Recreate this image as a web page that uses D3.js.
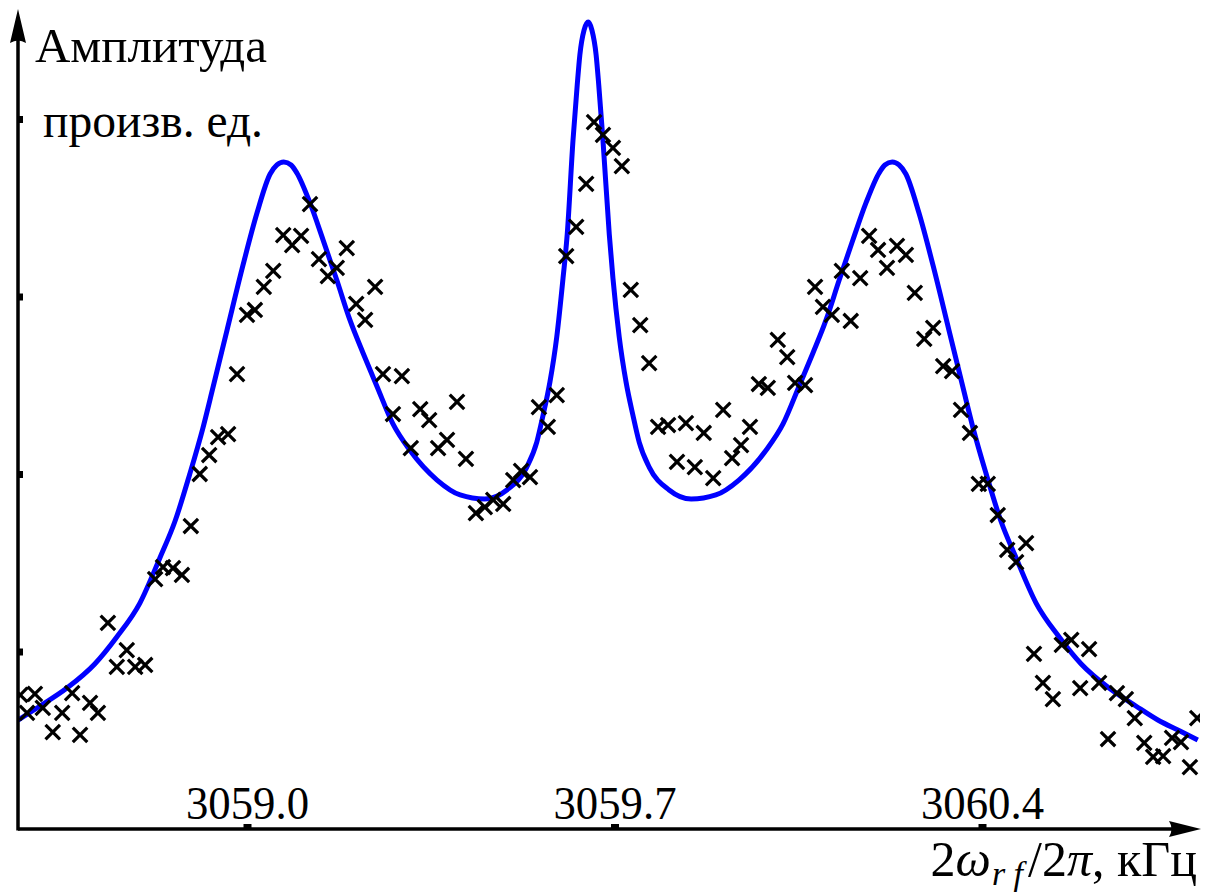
<!DOCTYPE html>
<html>
<head>
<meta charset="utf-8">
<script src="https://cdn.jsdelivr.net/npm/d3@7"></script>
<style>
  html, body { margin: 0; padding: 0; background: #fff; }
  svg { display: block; }
  svg text { font-family: "Liberation Serif", "Times New Roman", "DejaVu Serif", serif; fill: #000; }
</style>
</head>
<body>
<svg id="chart" width="1208" height="892"></svg>
<script>
// Tick positions on the frequency axis (kHz) and amplitude axis (arb. units)
const xTicks = [3059.0, 3059.7, 3060.4];
const yTicks = [1, 2, 3, 4];

// Fitted three-peak resonance curve
const fitFreq = [
  3058.564, 3058.606, 3058.657, 3058.710, 3058.752, 3058.796, 3058.834, 3058.863,
  3058.891, 3058.916, 3058.935, 3058.962, 3058.992, 3059.019, 3059.044, 3059.057,
  3059.070, 3059.084, 3059.095, 3059.120, 3059.145, 3059.171, 3059.196, 3059.221,
  3059.248, 3059.278, 3059.310, 3059.362, 3059.406, 3059.453, 3059.495, 3059.533,
  3059.552, 3059.564, 3059.577, 3059.590, 3059.602, 3059.610, 3059.621, 3059.629,
  3059.634, 3059.642, 3059.650, 3059.657, 3059.665, 3059.670, 3059.678, 3059.690,
  3059.697, 3059.709, 3059.722, 3059.735, 3059.747, 3059.766, 3059.804, 3059.846,
  3059.893, 3059.937, 3059.989, 3060.021, 3060.051, 3060.078, 3060.103, 3060.128,
  3060.154, 3060.179, 3060.204, 3060.215, 3060.229, 3060.242, 3060.255, 3060.280,
  3060.307, 3060.337, 3060.364, 3060.383, 3060.408, 3060.436, 3060.465, 3060.503,
  3060.547, 3060.589, 3060.642, 3060.693, 3060.735, 3060.777, 3060.811
];
const fitAmp = [
  0.614, 0.693, 0.794, 0.930, 1.082, 1.273, 1.527, 1.735,
  2.000, 2.259, 2.485, 2.811, 3.172, 3.470, 3.690, 3.741,
  3.758, 3.741, 3.696, 3.527, 3.318, 3.093, 2.868, 2.682,
  2.490, 2.282, 2.135, 1.966, 1.882, 1.859, 1.910, 2.039,
  2.180, 2.332, 2.518, 2.772, 3.104, 3.352, 3.882, 4.192,
  4.361, 4.501, 4.546, 4.501, 4.361, 4.192, 3.882, 3.352,
  3.104, 2.772, 2.518, 2.332, 2.180, 2.039, 1.910, 1.859,
  1.882, 1.966, 2.135, 2.282, 2.490, 2.682, 2.868, 3.093,
  3.318, 3.527, 3.696, 3.741, 3.758, 3.741, 3.690, 3.470,
  3.172, 2.811, 2.485, 2.259, 2.000, 1.735, 1.527, 1.273,
  1.082, 0.930, 0.794, 0.693, 0.614, 0.552, 0.501
];

// Measured amplitudes
const measFreq = [
  3058.568, 3058.596, 3058.581, 3058.611, 3058.630, 3058.648, 3058.667, 3058.682,
  3058.701, 3058.716, 3058.735, 3058.752, 3058.771, 3058.787, 3058.806, 3058.825,
  3058.840, 3058.859, 3058.876, 3058.893, 3058.910, 3058.928, 3058.945, 3058.964,
  3058.981, 3059.000, 3059.015, 3059.032, 3059.050, 3059.069, 3059.086, 3059.103,
  3059.120, 3059.137, 3059.154, 3059.171, 3059.190, 3059.208, 3059.225, 3059.244,
  3059.259, 3059.295, 3059.278, 3059.330, 3059.347, 3059.400, 3059.312, 3059.364,
  3059.381, 3059.417, 3059.436, 3059.453, 3059.469, 3059.488, 3059.507, 3059.522,
  3059.539, 3059.556, 3059.573, 3059.590, 3059.608, 3059.627, 3059.646, 3059.661,
  3059.678, 3059.697, 3059.714, 3059.731, 3059.749, 3059.766, 3059.783, 3059.802,
  3059.836, 3059.870, 3059.907, 3059.819, 3059.853, 3059.888, 3059.924, 3059.941,
  3059.958, 3059.975, 3059.992, 3060.011, 3060.029, 3060.044, 3060.063, 3060.082,
  3060.097, 3060.114, 3060.133, 3060.150, 3060.168, 3060.185, 3060.202, 3060.219,
  3060.238, 3060.255, 3060.272, 3060.307, 3060.290, 3060.326, 3060.343, 3060.360,
  3060.377, 3060.394, 3060.411, 3060.430, 3060.448, 3060.465, 3060.484, 3060.499,
  3060.516, 3060.535, 3060.552, 3060.570, 3060.587, 3060.604, 3060.623, 3060.640,
  3060.657, 3060.674, 3060.691, 3060.709, 3060.726, 3060.745, 3060.762, 3060.779,
  3060.796, 3060.810
];
const measAmp = [
  0.755, 0.761, 0.654, 0.682, 0.546, 0.654, 0.766, 0.530,
  0.710, 0.654, 1.161, 0.913, 1.008, 0.913, 0.924, 1.408,
  1.476, 1.470, 1.431, 1.707, 2.000, 2.107, 2.208, 2.225,
  2.563, 2.896, 2.924, 3.054, 3.144, 3.346, 3.290, 3.341,
  3.521, 3.211, 3.115, 3.161, 3.273, 2.958, 2.868, 3.054,
  2.563, 2.552, 2.338, 2.366, 2.304, 2.406, 2.146, 2.146,
  2.192, 2.085, 1.780, 1.814, 1.854, 1.831, 1.966, 2.017,
  1.983, 2.377, 2.265, 2.445, 3.228, 3.392, 3.634, 3.983,
  3.910, 3.837, 3.735, 3.037, 2.839, 2.625, 2.265, 2.276,
  2.287, 2.231, 2.361, 2.068, 2.039, 1.977, 2.090, 2.163,
  2.265, 2.507, 2.485, 2.755, 2.659, 2.513, 2.501, 3.054,
  2.941, 2.896, 3.144, 2.862, 3.104, 3.341, 3.262, 3.161,
  3.285, 3.234, 3.020, 2.823, 2.761, 2.608, 2.580, 2.361,
  2.231, 1.944, 1.944, 1.769, 1.572, 1.504, 1.611, 0.986,
  0.823, 0.732, 1.037, 1.065, 0.794, 1.014, 0.823, 0.507,
  0.766, 0.732, 0.625, 0.485, 0.406, 0.411, 0.513, 0.490,
  0.349, 0.625
];

const svg = d3.select("#chart");
const originX = 18, originY = 829;
const axisEndX = 1201, axisEndY = 9;

const x = d3.scaleLinear().domain([3059.0, 3060.4]).range([247, 982]);
const y = d3.scaleLinear().domain([0, 4]).range([originY, 119]);

// plotting region clip
svg.append("defs").append("clipPath").attr("id", "plotClip")
  .append("rect").attr("x", originX).attr("y", 0)
  .attr("width", 1200 - originX).attr("height", originY);

const plot = svg.append("g").attr("clip-path", "url(#plotClip)");

// fitted curve
const fitData = fitFreq.map((f, i) => [f, fitAmp[i]]);
plot.append("path")
  .datum(fitData)
  .attr("fill", "none")
  .attr("stroke", "#0000ff")
  .attr("stroke-width", 5)
  .attr("stroke-linejoin", "round")
  .attr("d", d3.line().x(d => x(d[0])).y(d => y(d[1])).curve(d3.curveMonotoneX));

// measured points as crosses
const crossSymbol = {
  draw(ctx, size) {
    const r = Math.sqrt(size) / 2;
    ctx.moveTo(-r, -r); ctx.lineTo(r, r);
    ctx.moveTo(-r, r); ctx.lineTo(r, -r);
  }
};
const measData = measFreq.map((f, i) => [f, measAmp[i]]);
plot.append("g").selectAll("path")
  .data(measData)
  .join("path")
  .attr("transform", d => `translate(${x(d[0])},${y(d[1])})`)
  .attr("d", d3.symbol(crossSymbol, 210)())
  .attr("fill", "none")
  .attr("stroke", "#000")
  .attr("stroke-width", 3.2);

// axes
const axes = svg.append("g");
axes.append("line")
  .attr("x1", originX).attr("y1", originY)
  .attr("x2", axisEndX - 20).attr("y2", originY)
  .attr("stroke", "#000").attr("stroke-width", 3.5);
axes.append("line")
  .attr("x1", originX).attr("y1", originY + 1.5)
  .attr("x2", originX).attr("y2", axisEndY + 20)
  .attr("stroke", "#000").attr("stroke-width", 3.5);
axes.append("path")
  .attr("d", `M${axisEndX},${originY} L${axisEndX - 32},${originY - 8} Q${axisEndX - 27},${originY} ${axisEndX - 32},${originY + 8} Z`)
  .attr("fill", "#000");
axes.append("path")
  .attr("d", `M${originX},${axisEndY} L${originX - 8},${axisEndY + 34} Q${originX},${axisEndY + 29} ${originX + 8},${axisEndY + 34} Z`)
  .attr("fill", "#000");

// frequency ticks with labels above the axis
const xAxis = svg.append("g")
  .attr("transform", `translate(0,${originY})`)
  .call(d3.axisTop(x).tickValues(xTicks).tickFormat(d3.format(".1f")).tickSize(5).tickSizeOuter(0).tickPadding(5));
xAxis.attr("font-family", null);
xAxis.select(".domain").remove();
xAxis.selectAll(".tick line").attr("stroke", "#000").attr("stroke-width", 8);
xAxis.selectAll(".tick text")
  .attr("fill", "#000")
  .attr("font-size", 46)
  .attr("textLength", 123)
  .attr("lengthAdjust", "spacingAndGlyphs");

// amplitude ticks (unlabelled)
const yAxis = svg.append("g")
  .attr("transform", `translate(${originX},0)`)
  .call(d3.axisRight(y).tickValues(yTicks).tickFormat("").tickSize(5).tickSizeOuter(0));
yAxis.select(".domain").remove();
yAxis.selectAll(".tick line").attr("stroke", "#000").attr("stroke-width", 7);

// axis titles
svg.append("text")
  .attr("x", 35).attr("y", 62)
  .attr("font-size", 48)
  .attr("textLength", 232).attr("lengthAdjust", "spacingAndGlyphs")
  .text("Амплитуда");
svg.append("text")
  .attr("x", 43).attr("y", 137)
  .attr("font-size", 48)
  .attr("textLength", 220).attr("lengthAdjust", "spacingAndGlyphs")
  .text("произв. ед.");

const xTitle = svg.append("text")
  .attr("x", 1197).attr("y", 876)
  .attr("text-anchor", "end")
  .attr("font-size", 50);
xTitle.append("tspan").text("2");
xTitle.append("tspan").attr("font-style", "italic").text("ω");
xTitle.append("tspan").attr("font-style", "italic").attr("font-size", 34).attr("dy", 9).attr("dx", 1).text("r f");
xTitle.append("tspan").attr("dy", -9).attr("dx", 5).text("/2");
xTitle.append("tspan").attr("font-style", "italic").text("π");
xTitle.append("tspan").text(", кГц");
</script>
</body>
</html>
